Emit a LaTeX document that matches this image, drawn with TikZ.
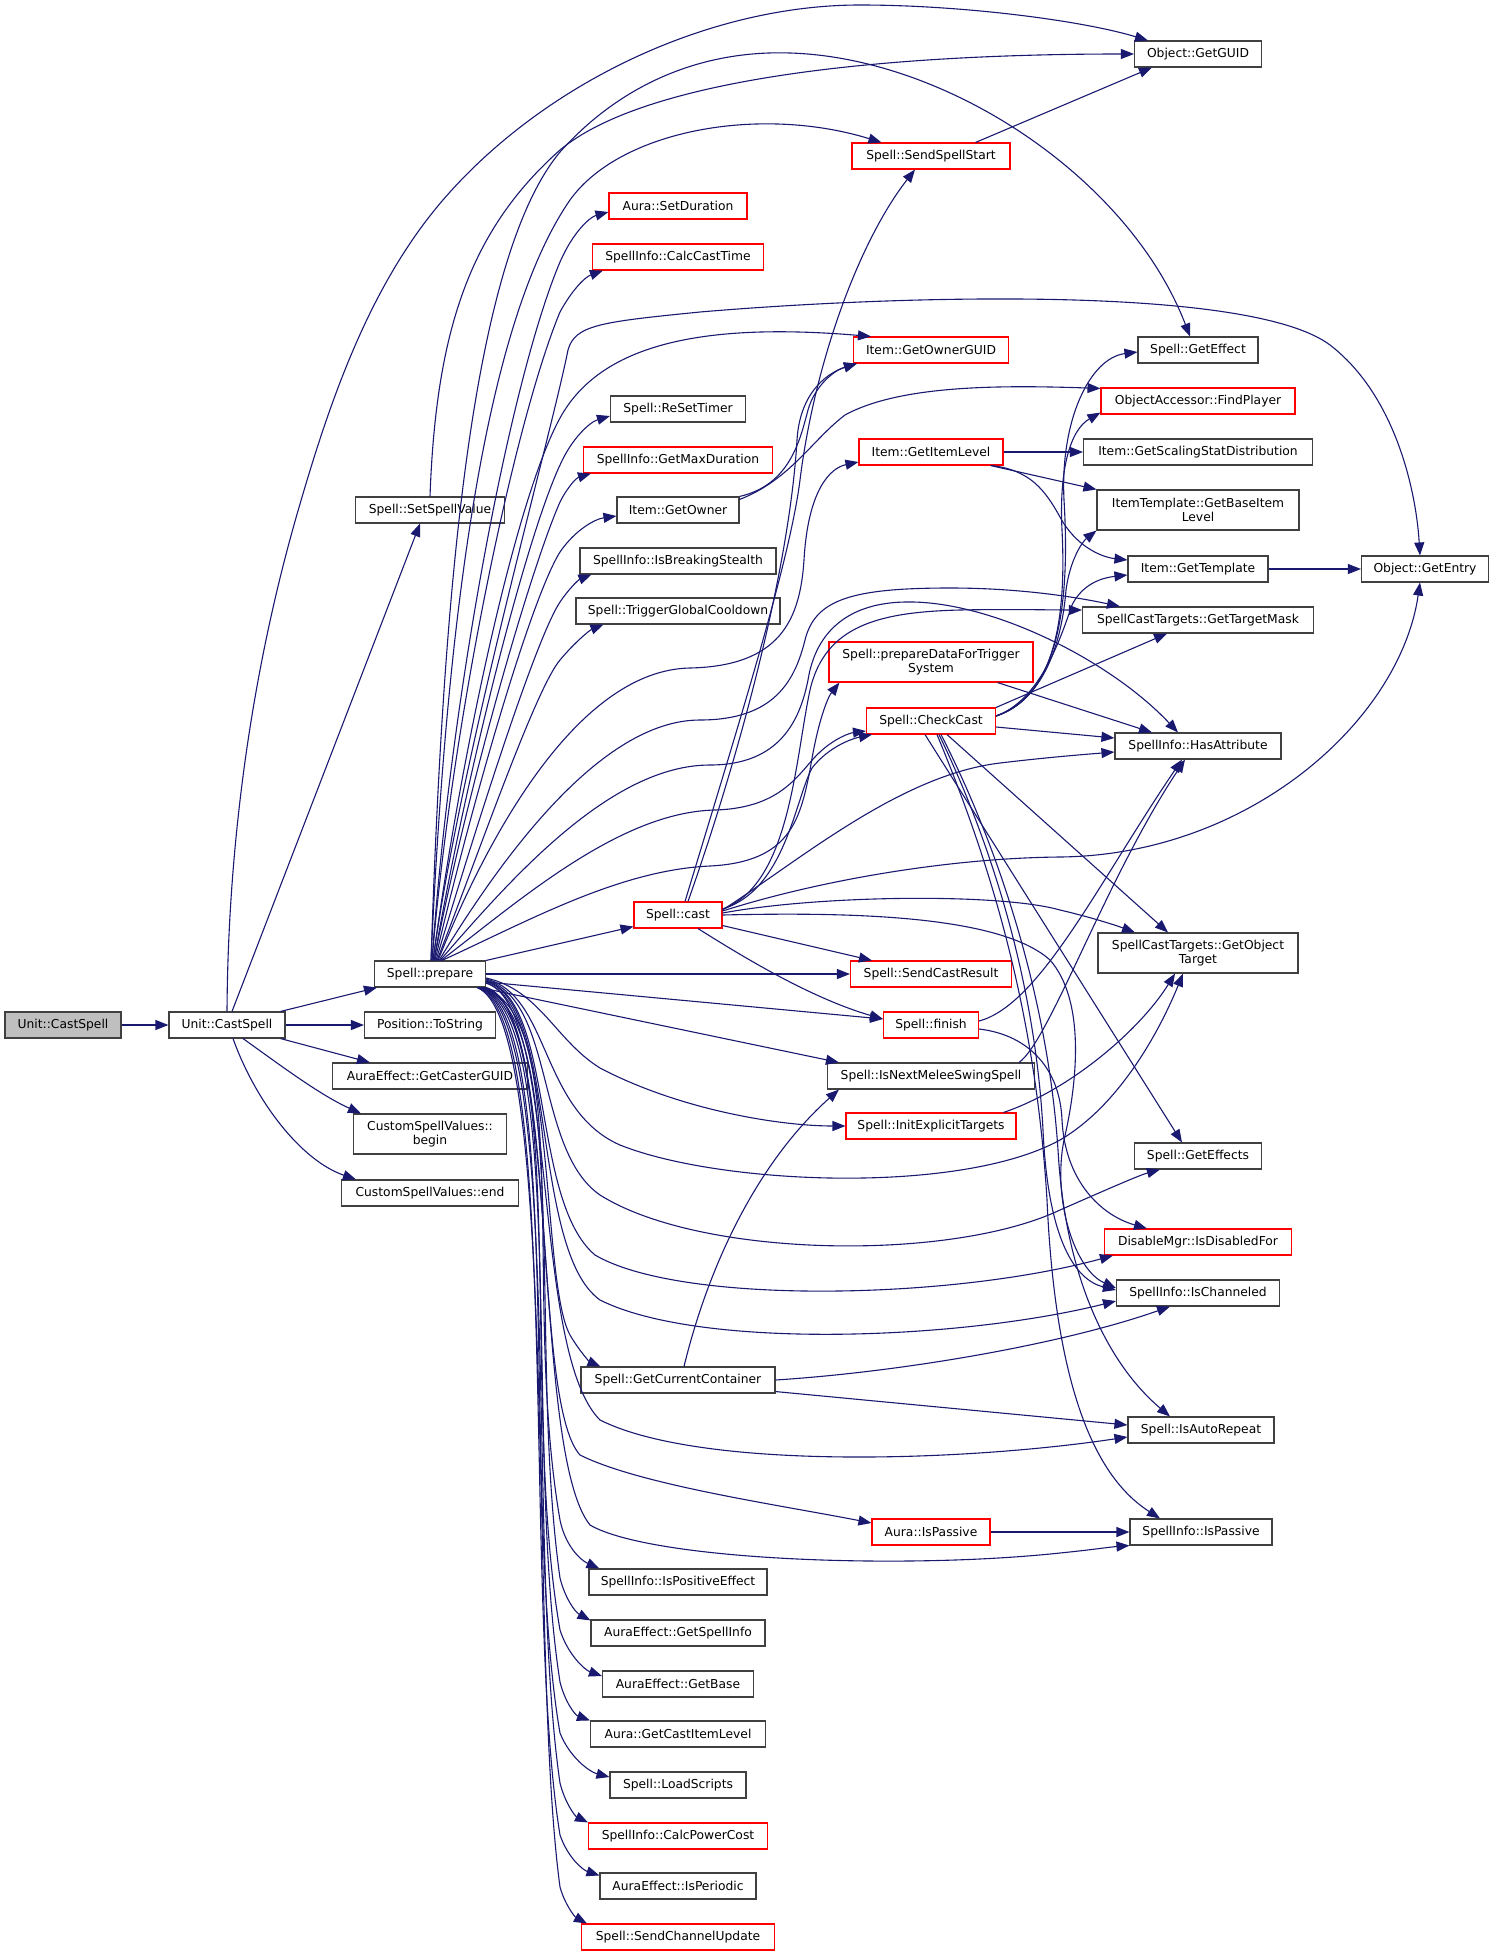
\documentclass[tikz,border=0pt]{standalone}
\usepackage{fontspec}
\setmainfont{DejaVu Sans}
\usetikzlibrary{arrows.meta}
\definecolor{navyc}{HTML}{191970}
\definecolor{rootgray}{HTML}{BFBFBF}
\definecolor{boxline}{HTML}{404040}
\begin{document}
\begin{tikzpicture}[x=1pt,y=-1pt,
  box/.style={draw=boxline, line width=1.1pt, fill=white, minimum height=26pt, inner sep=0pt, font=\fontsize{12.3}{14.5}\selectfont, text=black},
  rbox/.style={box, draw=red},
  tall/.style={minimum height=40pt, align=center},
  e/.style={draw=navyc, line width=1.1pt, -{Triangle[length=13pt,width=10pt]}}]
\useasboundingbox (0,0) rectangle (1493,1956);
% ---------- nodes ----------
\node[box, fill=rootgray, minimum width=116pt] (root) at (63,1025) {Unit::CastSpell};
\node[box, minimum width=116pt] (ucs) at (227,1025) {Unit::CastSpell};
\node[box, minimum width=111pt] (prep) at (430,974) {Spell::prepare};
\node[box, minimum width=131pt] (pos) at (430,1025) {Position::ToString};
\node[box, minimum width=195pt] (gcg) at (430,1076) {AuraEffect::GetCasterGUID};
\node[box, tall, minimum width=153pt] (csvb) at (430,1134) {CustomSpellValues::\\begin};
\node[box, minimum width=177pt] (csve) at (430,1193) {CustomSpellValues::end};
\node[box, minimum width=149pt] (ssv) at (430,510) {Spell::SetSpellValue};
% column 678
\node[rbox, minimum width=138pt] (setdur) at (678,206) {Aura::SetDuration};
\node[rbox, minimum width=171pt] (cct) at (678,257) {SpellInfo::CalcCastTime};
\node[box, minimum width=135pt] (rst) at (678,409) {Spell::ReSetTimer};
\node[rbox, minimum width=189pt] (gmd) at (678,460) {SpellInfo::GetMaxDuration};
\node[box, minimum width=122pt] (gown) at (678,510) {Item::GetOwner};
\node[box, minimum width=196pt] (ibs) at (678,561) {SpellInfo::IsBreakingStealth};
\node[box, minimum width=204pt] (tgc) at (678,611) {Spell::TriggerGlobalCooldown};
\node[rbox, minimum width=88pt] (cast) at (678,915) {Spell::cast};
\node[box, minimum width=194pt] (gcc) at (678,1380) {Spell::GetCurrentContainer};
\node[box, minimum width=178pt] (ipe) at (678,1582) {SpellInfo::IsPositiveEffect};
\node[box, minimum width=174pt] (gsi) at (678,1633) {AuraEffect::GetSpellInfo};
\node[box, minimum width=151pt] (gb) at (678,1684) {AuraEffect::GetBase};
\node[box, minimum width=175pt] (gcil) at (678,1734) {Aura::GetCastItemLevel};
\node[box, minimum width=136pt] (ls) at (678,1785) {Spell::LoadScripts};
\node[rbox, minimum width=179pt] (cpc) at (678,1836) {SpellInfo::CalcPowerCost};
\node[box, minimum width=156pt] (iper) at (678,1886) {AuraEffect::IsPeriodic};
\node[rbox, minimum width=193pt] (scu) at (678,1937) {Spell::SendChannelUpdate};
% column 931
\node[rbox, minimum width=158pt] (sss) at (931,156) {Spell::SendSpellStart};
\node[rbox, minimum width=155pt] (gog) at (931,350) {Item::GetOwnerGUID};
\node[rbox, minimum width=144pt] (gil) at (931,452) {Item::GetItemLevel};
\node[rbox, tall, minimum width=204pt] (pdft) at (931,662) {Spell::prepareDataForTrigger\\System};
\node[rbox, minimum width=129pt] (cc) at (931,721) {Spell::CheckCast};
\node[rbox, minimum width=161pt] (scr) at (931,974) {Spell::SendCastResult};
\node[rbox, minimum width=95pt] (fin) at (931,1025) {Spell::finish};
\node[box, minimum width=207pt] (inm) at (931,1076) {Spell::IsNextMeleeSwingSpell};
\node[rbox, minimum width=170pt] (iet) at (931,1126) {Spell::InitExplicitTargets};
\node[rbox, minimum width=118pt] (aip) at (931,1532) {Aura::IsPassive};
% column 1198
\node[box, minimum width=127pt] (guid) at (1198,54) {Object::GetGUID};
\node[box, minimum width=120pt] (geff) at (1198,350) {Spell::GetEffect};
\node[rbox, minimum width=194pt] (fp) at (1198,401) {ObjectAccessor::FindPlayer};
\node[box, minimum width=229pt] (gssd) at (1198,452) {Item::GetScalingStatDistribution};
\node[box, tall, minimum width=202pt] (gbil) at (1198,510) {ItemTemplate::GetBaseItem\\Level};
\node[box, minimum width=140pt] (gt) at (1198,569) {Item::GetTemplate};
\node[box, minimum width=231pt] (gtm) at (1198,620) {SpellCastTargets::GetTargetMask};
\node[box, minimum width=166pt] (ha) at (1198,746) {SpellInfo::HasAttribute};
\node[box, tall, minimum width=200pt] (got) at (1198,953) {SpellCastTargets::GetObject\\Target};
\node[box, minimum width=127pt] (geffs) at (1198,1156) {Spell::GetEffects};
\node[rbox, minimum width=187pt] (idf) at (1198,1242) {DisableMgr::IsDisabledFor};
\node[box, minimum width=163pt] (ich) at (1198,1293) {SpellInfo::IsChanneled};
\node[box, minimum width=146pt] (iar) at (1201,1430) {Spell::IsAutoRepeat};
\node[box, minimum width=142pt] (sip) at (1201,1532) {SpellInfo::IsPassive};
\node[box, minimum width=127pt] (gent) at (1425,569) {Object::GetEntry};
% ---------- edges ----------
% Unit::CastSpell
\draw[e] (root.east) -- (ucs.west);
\draw[e] ([xshift=-5pt]ucs.north east) -- ([xshift=3pt]prep.south west);
\draw[e] (ucs.east) -- (pos.west);
\draw[e] ([xshift=-5pt]ucs.south east) -- ([xshift=38pt]gcg.north west);
\draw[e] ([xshift=16pt]ucs.south) .. controls (280,1065) and (320,1095) .. ([xshift=8pt]csvb.north west);
\draw[e] ([xshift=6pt]ucs.south) .. controls (255,1100) and (300,1160) .. ([xshift=15pt]csve.north west);
\draw[e] ([xshift=5pt]ucs.north) -- ([xshift=-10pt]ssv.south);
\draw[e] (ucs.north) .. controls (228,842) and (252,667) .. (300,504) .. controls (332,394) and (373,277) .. (450,192) .. controls (550,81) and (710,5) .. (860,5) .. controls (960,5) and (1080,20) .. ([xshift=14pt]guid.north west);
\draw[e] (ssv.north) .. controls (436,330) and (470,230) .. (560,150) .. controls (650,75) and (900,54) .. (guid.west);
\draw[e] ([xshift=-35pt]sss.north east) -- ([xshift=18pt]guid.south west);
% prepare upward fan
\draw[e] ([xshift=2pt]prep.north) .. controls (450,700) and (510,380) .. (560,262) .. controls (573,232) and (590,217) .. ([yshift=-6pt]setdur.west);
\draw[e] ([xshift=2pt]prep.north) .. controls (452,720) and (515,420) .. (560,312) .. controls (572,290) and (585,277) .. ([xshift=11pt]cct.south west);
\draw[e] ([xshift=1pt]prep.north) .. controls (445,650) and (480,330) .. (570,200) .. controls (620,130) and (760,105) .. ([xshift=30pt]sss.north west);
\draw[e] ([xshift=1pt]prep.north) .. controls (443,600) and (470,260) .. (560,152) .. controls (620,85) and (700,50) .. (790,53) .. controls (950,58) and (1130,180) .. ([xshift=-8pt]geff.north);
\draw[e] ([xshift=3pt]prep.north) .. controls (460,760) and (515,500) .. (560,418) .. controls (600,345) and (700,322) .. ([xshift=18pt]gog.north west);
\draw[e] ([xshift=3pt]prep.north) .. controls (460,760) and (550,440) .. (568,350) .. controls (575,325) and (600,322) .. (700,312) .. controls (900,295) and (1250,285) .. (1330,345) .. controls (1395,395) and (1416,490) .. ([xshift=-5pt]gent.north);
\draw[e] ([xshift=4pt]prep.north) .. controls (465,780) and (525,540) .. (560,465) .. controls (572,438) and (590,422) .. ([yshift=-7pt]rst.west);
\draw[e] ([xshift=4pt]prep.north) .. controls (467,790) and (530,570) .. (560,502) .. controls (567,488) and (576,478) .. ([xshift=8pt]gmd.south west);
\draw[e] ([xshift=5pt]prep.north) .. controls (470,810) and (530,600) .. (560,552) .. controls (575,530) and (595,519) .. ([yshift=-6pt]gown.west);
\draw[e] ([xshift=6pt]prep.north) .. controls (475,830) and (535,640) .. (560,602) .. controls (568,590) and (578,580) .. ([xshift=12pt]ibs.south west);
\draw[e] ([xshift=7pt]prep.north) .. controls (480,850) and (535,690) .. (560,660) .. controls (575,642) and (590,630) .. ([xshift=28pt]tgc.south west);
% prepare S-curves
\draw[e] ([xshift=8pt]prep.north) .. controls (490,830) and (580,670) .. (690,668) .. controls (780,666) and (800,620) .. (804,560) .. controls (808,490) and (830,468) .. ([yshift=-10pt]gil.west);
\draw[e] ([xshift=9pt]prep.north) .. controls (500,860) and (600,720) .. (700,720) .. controls (775,720) and (795,680) .. (805,640) .. controls (815,600) and (850,588) .. (950,588) .. controls (1030,588) and (1090,600) .. ([xshift=38pt]gtm.north west);
\draw[e] ([xshift=10pt]prep.north) .. controls (510,880) and (610,765) .. (710,765) .. controls (780,765) and (800,720) .. (808,680) .. controls (816,630) and (850,603) .. (905,602) .. controls (990,600) and (1110,660) .. ([xshift=-20pt]ha.north);
\draw[e] ([xshift=11pt]prep.north) .. controls (520,900) and (620,812) .. (715,810) .. controls (785,808) and (800,770) .. (820,752) .. controls (835,738) and (850,733) .. ([yshift=-10pt]cc.west);
\draw[e] ([xshift=12pt]prep.north) .. controls (530,920) and (620,870) .. (710,866) .. controls (790,862) and (800,820) .. (810,770) .. controls (818,720) and (828,697) .. ([xshift=11pt]pdft.south west);
% prepare rightward
\draw[e] (prep.north east) -- ([yshift=2pt]cast.south west);
\draw[e] (prep.east) -- (scr.west);
\draw[e] ([yshift=-8pt]prep.east) -- ([yshift=6pt]fin.west);
\draw[e] ([xshift=-6pt]prep.south east) -- ([xshift=12pt]inm.north west);
\draw[e] ([yshift=-4pt]prep.east) .. controls (540,990) and (555,1040) .. (600,1068) .. controls (680,1110) and (780,1126) .. (iet.west);
\draw[e] ([yshift=-5pt]prep.east) .. controls (550,995) and (540,1110) .. (620,1145) .. controls (720,1185) and (960,1195) .. (1060,1140) .. controls (1120,1105) and (1160,1030) .. ([xshift=-15pt]got.south);
\draw[e] ([yshift=-6pt]prep.east) .. controls (555,1000) and (535,1150) .. (600,1195) .. controls (700,1258) and (950,1262) .. (1060,1210) .. controls (1110,1188) and (1140,1175) .. ([xshift=26pt]geffs.south west);
\draw[e] ([yshift=-7pt]prep.east) .. controls (555,1000) and (530,1200) .. (595,1255) .. controls (680,1305) and (950,1300) .. ([xshift=9pt]idf.south west);
\draw[e] ([yshift=-8pt]prep.east) .. controls (558,1000) and (530,1250) .. (600,1300) .. controls (700,1350) and (960,1340) .. ([yshift=-8pt]ich.west);
\draw[e] ([yshift=-9pt]prep.east) .. controls (558,1005) and (540,1280) .. (570,1335) .. controls (580,1352) and (590,1362) .. ([xshift=20pt]gcc.north west);
\draw[e] ([yshift=-9pt]prep.east) .. controls (560,1005) and (530,1350) .. (600,1420) .. controls (700,1470) and (960,1462) .. ([yshift=-7pt]iar.west);
\draw[e] (prep.south east) .. controls (560,1010) and (530,1400) .. (580,1455) .. controls (640,1485) and (780,1505) .. ([yshift=9pt]aip.west);
\draw[e] (prep.south east) .. controls (562,1010) and (530,1450) .. (590,1525) .. controls (650,1560) and (900,1570) .. (1060,1553) .. controls (1090,1550) and (1110,1547) .. (sip.south west);
% prepare downward column
\draw[e] ([xshift=-2pt]prep.south east) .. controls (575,1020) and (522,1300) .. (560,1520) .. controls (565,1545) and (580,1560) .. ([xshift=11pt]ipe.north west);
\draw[e] ([xshift=-3pt]prep.south east) .. controls (572,1020) and (528,1350) .. (560,1578) .. controls (565,1598) and (575,1612) .. ([yshift=-1pt]gsi.north west);
\draw[e] ([xshift=-4pt]prep.south east) .. controls (570,1020) and (520,1400) .. (560,1630) .. controls (568,1655) and (585,1670) .. ([yshift=8pt]gb.west);
\draw[e] ([xshift=-5pt]prep.south east) .. controls (568,1020) and (524,1450) .. (560,1682) .. controls (565,1702) and (575,1715) .. (gcil.north west);
\draw[e] ([xshift=-6pt]prep.south east) .. controls (566,1020) and (520,1500) .. (560,1733) .. controls (570,1758) and (590,1772) .. ([yshift=8pt]ls.west);
\draw[e] ([xshift=-7pt]prep.south east) .. controls (564,1020) and (526,1550) .. (560,1783) .. controls (565,1803) and (575,1816) .. (cpc.north west);
\draw[e] ([xshift=-8pt]prep.south east) .. controls (562,1020) and (522,1600) .. (560,1835) .. controls (568,1858) and (583,1870) .. ([yshift=-3pt]iper.north west);
\draw[e] ([xshift=-9pt]prep.south east) .. controls (560,1020) and (528,1650) .. (560,1887) .. controls (565,1905) and (575,1917) .. ([xshift=6pt]scu.north west);
% Item::GetOwner
\draw[e] (gown.north east) .. controls (790,485) and (800,440) .. (808,410) .. controls (815,385) and (835,370) .. ([xshift=4pt]gog.south west);
\draw[e] ([yshift=-3pt]gown.north east) .. controls (790,480) and (812,440) .. (845,415) .. controls (900,385) and (1000,385) .. ([yshift=-1pt]fp.north west);
% Spell::cast
\draw[e] ([xshift=7pt]cast.north) .. controls (740,720) and (790,560) .. (800,480) .. controls (815,360) and (860,240) .. ([xshift=-16pt]sss.south);
\draw[e] ([xshift=10pt]cast.north) .. controls (745,740) and (790,560) .. (797,440) .. controls (800,390) and (830,372) .. ([xshift=4pt]gog.south west);
\draw[e] ([yshift=6pt]cast.east) .. controls (785,890) and (795,800) .. (812,768) .. controls (830,745) and (855,738) .. ([xshift=6pt]cc.south west);
\draw[e] ([yshift=6pt]cast.east) .. controls (790,885) and (795,760) .. (810,690) .. controls (825,625) and (880,612) .. (960,610) .. controls (1010,609) and (1050,610) .. ([yshift=10pt]gtm.west);
\draw[e] ([yshift=5pt]cast.east) .. controls (800,860) and (900,775) .. (1000,763) .. controls (1050,757) and (1090,754) .. ([yshift=-6pt]ha.west);
\draw[e] ([yshift=4pt]cast.east) .. controls (820,880) and (950,858) .. (1060,857) .. controls (1250,855) and (1400,720) .. ([xshift=-5pt]gent.south);
\draw[e] ([yshift=2pt]cast.east) .. controls (820,895) and (1000,893) .. (1060,910) .. controls (1090,917) and (1115,925) .. ([xshift=-63pt]got.north);
\draw[e] (cast.east) .. controls (850,912) and (1000,915) .. (1050,960) .. controls (1085,1000) and (1078,1080) .. (1064,1140) .. controls (1052,1200) and (1075,1270) .. ([yshift=5pt]ich.west);
\draw[e] ([yshift=3pt]cast.south east) -- ([xshift=22pt]scr.north west);
\draw[e] ([xshift=20pt]cast.south) .. controls (740,955) and (810,998) .. ([yshift=6pt]fin.west);
% Item::GetItemLevel
\draw[e] (gil.east) -- (gssd.west);
\draw[e] ([xshift=-13pt]gil.south east) -- (gbil.north west);
\draw[e] ([xshift=-12pt]gil.south east) .. controls (1030,470) and (1045,490) .. (1060,517) .. controls (1075,545) and (1100,557) .. ([yshift=9pt]gt.west);
\draw[e] (gt.east) -- (gent.west);
% prepareDataForTriggerSystem
\draw[e] ([xshift=-36pt]pdft.south east) -- ([xshift=-46pt]ha.north);
% Spell::CheckCast
\draw[e] ([yshift=5pt]cc.east) .. controls (1060,695) and (1070,600) .. (1064,500) .. controls (1060,420) and (1090,358) .. ([yshift=-2pt]geff.west);
\draw[e] ([yshift=5pt]cc.east) .. controls (1058,695) and (1066,610) .. (1062,530) .. controls (1059,470) and (1070,430) .. ([yshift=2pt]fp.south west);
\draw[e] ([yshift=5pt]cc.east) .. controls (1045,700) and (1062,640) .. (1066,590) .. controls (1070,560) and (1082,542) .. (gbil.south west);
\draw[e] ([yshift=5pt]cc.east) .. controls (1040,700) and (1060,640) .. (1072,605) .. controls (1082,585) and (1100,578) .. ([yshift=-6pt]gt.west);
\draw[e] (cc.north east) -- ([xshift=-31pt]gtm.south);
\draw[e] ([yshift=-6pt]cc.east) -- ([yshift=8pt]ha.west);
\draw[e] ([xshift=16pt]cc.south) -- ([xshift=-30pt]got.north);
\draw[e] ([xshift=-6pt]cc.south) -- ([xshift=-16pt]geffs.north);
\draw[e] ([xshift=8pt]cc.south) .. controls (990,840) and (1035,980) .. (1043,1130) .. controls (1048,1240) and (1075,1280) .. ([yshift=3pt]ich.west);
\draw[e] ([xshift=10pt]cc.south) .. controls (1000,850) and (1048,1000) .. (1058,1150) .. controls (1066,1290) and (1115,1370) .. ([xshift=-31pt]iar.north);
\draw[e] ([xshift=6pt]cc.south) .. controls (985,850) and (1035,1000) .. (1047,1200) .. controls (1056,1400) and (1100,1480) .. ([xshift=-41pt]sip.north);
% Spell::finish, IsNextMeleeSwingSpell, InitExplicitTargets
\draw[e] ([yshift=4pt]fin.east) .. controls (1040,1005) and (1100,880) .. ([xshift=-16pt]ha.south);
\draw[e] ([xshift=-16pt]inm.north east) .. controls (1050,1040) and (1105,880) .. ([xshift=-13pt]ha.south);
\draw[e] ([yshift=-4pt]fin.east) .. controls (1030,1035) and (1060,1070) .. (1062,1120) .. controls (1065,1180) and (1100,1215) .. ([xshift=43pt]idf.north west);
\draw[e] ([xshift=-13pt]iet.north east) .. controls (1070,1090) and (1140,1030) .. ([xshift=-23pt]got.south);
% Spell::GetCurrentContainer, Aura::IsPassive
\draw[e] ([xshift=6pt]gcc.north) .. controls (710,1260) and (760,1160) .. ([xshift=12pt]inm.south west);
\draw[e] (gcc.east) .. controls (900,1372) and (1060,1345) .. ([xshift=-28pt]ich.south);
\draw[e] ([yshift=2pt]gcc.south east) -- ([yshift=5pt]iar.west);
\draw[e] (aip.east) -- (sip.west);
\end{tikzpicture}
\end{document}
